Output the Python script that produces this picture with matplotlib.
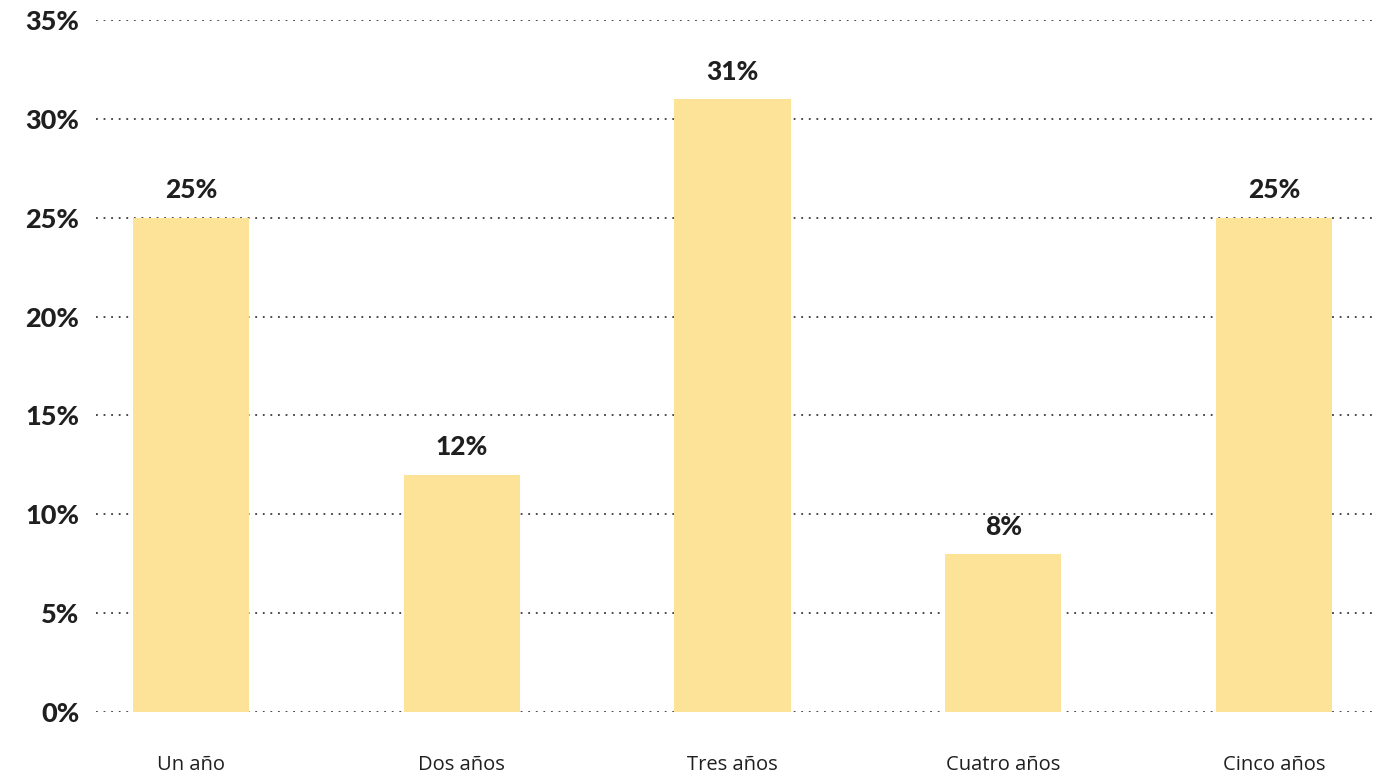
import numpy as np
import matplotlib
matplotlib.use("Agg")
import matplotlib.pyplot as plt

# data
categories = ["Un año", "Dos años", "Tres años", "Cuatro años", "Cinco años"]
values = [25, 12, 31, 8, 25]
y_ticks = [0, 5, 10, 15, 20, 25, 30, 35]

bar_color = "#FCE398"
text_color = "#1f1f1f"

fig = plt.figure(figsize=(13.91, 7.76), dpi=100)
ax = fig.add_axes([0.069, 1 - 712 / 776, 0.9195, (712 - 20) / 776])

x = np.arange(len(categories))
ax.bar(x, values, width=0.43, color=bar_color, zorder=2)

# value labels above bars
for xi, v in zip(x, values):
    ax.annotate(f"{v}%", (xi, v), xytext=(0, 11), textcoords="offset points",
                ha="center", va="bottom", fontsize=19, fontweight=900,
                family="Lato", color=text_color)

ax.set_xlim(-0.351, 4.373)
ax.set_ylim(0, 35)
ax.set_yticks(y_ticks)
ax.set_yticklabels([f"{t}%" for t in y_ticks])
ax.set_xticks(x)
ax.set_xticklabels(categories)

# dotted horizontal grid
ax.yaxis.grid(True, linestyle=(0, (1, 3.2)), linewidth=1.3, color="#3a3a3a", zorder=0)
ax.set_axisbelow(True)

for side in ax.spines.values():
    side.set_visible(False)

ax.tick_params(axis="y", length=0, pad=12, labelsize=19.5, labelcolor=text_color)
ax.tick_params(axis="x", length=0, pad=31, labelsize=14.5, labelcolor=text_color)
for lbl in ax.get_yticklabels():
    lbl.set_fontweight(900)
    lbl.set_family("Lato")
for lbl in ax.get_xticklabels():
    lbl.set_family("Open Sans")

fig.savefig("out.png", dpi=100)
